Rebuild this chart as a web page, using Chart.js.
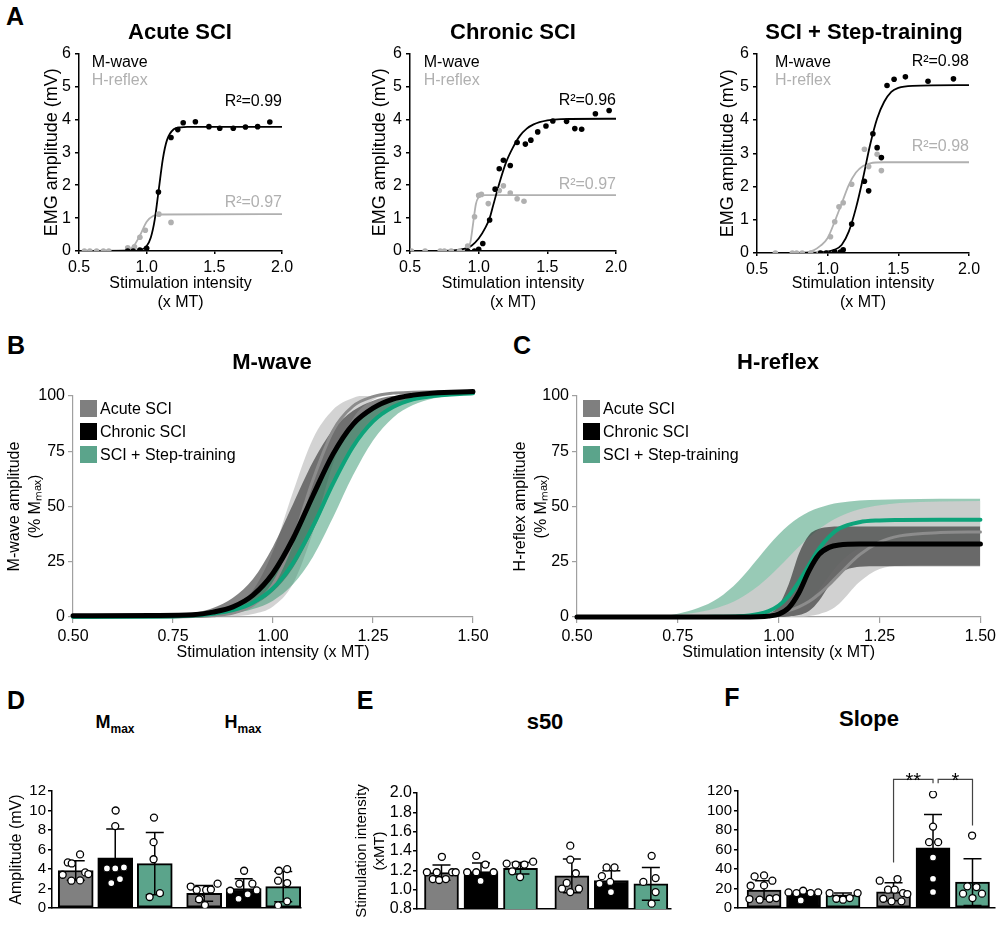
<!DOCTYPE html>
<html>
<head>
<meta charset="utf-8">
<title>Recruitment curves after SCI</title>
<script src="https://cdn.jsdelivr.net/npm/chart.js@4.4.1/dist/chart.umd.min.js"></script>
<style>
  body { margin: 0; background: #fff; }
  #fig { position: relative; width: 1000px; height: 927px; font-family: 'Liberation Sans', Arial, sans-serif; color: #000; }
  #fig canvas { position: absolute; }
  .t { position: absolute; transform: translate(-50%, -50%); font-weight: bold; font-size: 22px; line-height: 1; white-space: nowrap; }
  .p { position: absolute; transform: translate(-50%, -50%); font-weight: bold; font-size: 25px; line-height: 1; }
  .sub { font-size: 12px; position: relative; top: 5px; }
  .leg { position: absolute; font-size: 16px; line-height: 1; }
  .leg div { height: 23px; display: flex; align-items: center; white-space: nowrap; }
  .leg span { display: inline-block; width: 17px; height: 17px; margin-right: 3px; }
</style>
</head>
<body>
<div id="fig">
  <canvas id="a1" width="300" height="280" style="left:0;top:40px"></canvas>
  <canvas id="a2" width="310" height="280" style="left:330px;top:40px"></canvas>
  <canvas id="a3" width="330" height="280" style="left:660px;top:40px"></canvas>
  <canvas id="b" width="500" height="300" style="left:0;top:370px"></canvas>
  <canvas id="c" width="500" height="300" style="left:500px;top:370px"></canvas>
  <canvas id="d" width="320" height="167" style="left:0;top:760px"></canvas>
  <canvas id="e" width="345" height="167" style="left:330px;top:760px"></canvas>
  <canvas id="f" width="330" height="167" style="left:670px;top:760px"></canvas>

  <div class="p" style="left:15px;top:16px">A</div>
  <div class="t" style="left:180px;top:32px">Acute SCI</div>
  <div class="t" style="left:513px;top:32px">Chronic SCI</div>
  <div class="t" style="left:864px;top:32px">SCI + Step-training</div>

  <div class="p" style="left:16px;top:345px">B</div>
  <div class="t" style="left:272px;top:362px">M-wave</div>
  <div class="p" style="left:522px;top:345px">C</div>
  <div class="t" style="left:778px;top:362px">H-reflex</div>

  <div class="leg" style="left:80px;top:397px">
    <div><span style="background:#7f7f7f"></span>Acute SCI</div>
    <div><span style="background:#000"></span>Chronic SCI</div>
    <div><span style="background:#5ba48b"></span>SCI + Step-training</div>
  </div>
  <div class="leg" style="left:583px;top:397px">
    <div><span style="background:#7f7f7f"></span>Acute SCI</div>
    <div><span style="background:#000"></span>Chronic SCI</div>
    <div><span style="background:#5ba48b"></span>SCI + Step-training</div>
  </div>

  <div class="p" style="left:16px;top:700px">D</div>
  <div class="t" style="left:115px;top:722px;font-size:18px">M<span class="sub">max</span></div>
  <div class="t" style="left:243px;top:722px;font-size:18px">H<span class="sub">max</span></div>
  <div class="p" style="left:365px;top:700px">E</div>
  <div class="t" style="left:545px;top:722px">s50</div>
  <div class="p" style="left:732px;top:697px">F</div>
  <div class="t" style="left:869px;top:719px">Slope</div>
</div>

<script>
// ---------- A: recruitment curves of one animal per group ----------
const acuteMx = [0.86, 0.90, 0.95, 1.00, 1.087, 1.18, 1.23, 1.27, 1.36, 1.46, 1.54, 1.64, 1.73, 1.82, 1.91];
const acuteMy = [0, 0, 0.03, 0.08, 1.79, 3.45, 3.69, 3.9, 3.93, 3.78, 3.73, 3.73, 3.77, 3.78, 3.92];
const acuteHx = [0.54, 0.58, 0.63, 0.68, 0.72, 0.86, 0.91, 0.95, 0.99, 1.09, 1.18];
const acuteHy = [0, 0, 0, 0, 0, 0.1, 0.13, 0.42, 0.63, 1.12, 0.87];
const acuteMfitX = [0.5, 0.9, 0.95, 1.0, 1.03, 1.06, 1.09, 1.12, 1.15, 1.2, 1.25, 1.3, 2.0];
const acuteMfitY = [0, 0.004, 0.025, 0.15, 0.4, 0.96, 1.89, 2.81, 3.37, 3.7, 3.76, 3.77, 3.77];
const acuteHfitX = [0.5, 0.85, 0.9, 0.95, 1.0, 1.05, 1.1, 2.0];
const acuteHfitY = [0, 0.03, 0.13, 0.47, 0.89, 1.07, 1.11, 1.12];

const chronicMx = [0.92, 0.97, 1.0, 1.03, 1.08, 1.12, 1.15, 1.18, 1.23, 1.28, 1.34, 1.38, 1.43, 1.49, 1.54, 1.64, 1.70, 1.75, 1.85, 1.95];
const chronicMy = [0, 0, 0.05, 0.23, 0.94, 1.88, 2.5, 2.76, 2.6, 3.3, 3.25, 3.37, 3.62, 3.8, 3.95, 3.94, 3.72, 3.7, 4.17, 4.27];
const chronicHx = [0.51, 0.61, 0.72, 0.75, 0.80, 0.86, 0.92, 0.97, 1.0, 1.02, 1.07, 1.15, 1.18, 1.23, 1.28, 1.33];
const chronicHy = [0, 0, 0, 0, 0, 0, 0.15, 1.04, 1.69, 1.72, 1.44, 1.84, 1.98, 1.76, 1.59, 1.51];
const chronicMfitX = [0.5, 0.8, 0.9, 0.95, 1.0, 1.05, 1.08, 1.1, 1.15, 1.2, 1.25, 1.3, 1.35, 1.4, 1.5, 1.6, 2.0];
const chronicMfitY = [0, 0.01, 0.07, 0.17, 0.38, 0.72, 1.0, 1.3, 2.05, 2.7, 3.15, 3.5, 3.72, 3.85, 3.97, 4.01, 4.02];
const chronicHfitX = [0.5, 0.9, 0.92, 0.94, 0.96, 0.98, 1.0, 1.02, 1.05, 2.0];
const chronicHfitY = [0, 0.01, 0.06, 0.27, 0.85, 1.43, 1.64, 1.69, 1.7, 1.7];

const stepMx = [0.95, 0.99, 1.05, 1.09, 1.11, 1.17, 1.26, 1.29, 1.32, 1.35, 1.38, 1.42, 1.47, 1.55, 1.71, 1.89];
const stepMy = [0, 0, 0.03, 0.03, 0.1, 0.87, 2.16, 1.87, 3.59, 3.17, 2.87, 5.04, 5.23, 5.3, 5.17, 5.24];
const stepHx = [0.63, 0.75, 0.78, 0.82, 0.88, 0.94, 0.99, 1.02, 1.05, 1.08, 1.11, 1.17, 1.26, 1.29, 1.35, 1.38];
const stepHy = [0, 0, 0, 0, 0, 0, 0, 0.49, 0.94, 1.39, 1.51, 2.07, 3.12, 2.6, 2.97, 2.48];
const stepMfitX = [0.5, 0.95, 1.05, 1.1, 1.15, 1.2, 1.25, 1.3, 1.35, 1.4, 1.45, 1.5, 1.6, 2.0];
const stepMfitY = [0, 0.02, 0.1, 0.25, 0.65, 1.35, 2.25, 3.25, 4.05, 4.55, 4.85, 4.97, 5.03, 5.05];
const stepHfitX = [0.5, 0.85, 0.9, 0.95, 1.0, 1.05, 1.1, 1.15, 1.2, 1.25, 1.3, 1.4, 2.0];
const stepHfitY = [0, 0.02, 0.08, 0.22, 0.45, 0.95, 1.5, 2.05, 2.42, 2.62, 2.7, 2.73, 2.73];

// ---------- B: group M-wave curves (% Mmax), mean and band ----------
const xB = [0.5, 0.7, 0.8, 0.85, 0.9, 0.95, 1.0, 1.05, 1.1, 1.15, 1.2, 1.25, 1.3, 1.35, 1.4, 1.5];
const bAcute   = [0, 0, 0.2, 0.6, 1.8, 5.4, 14.7, 34.6, 62.1, 84.3, 95.4, 99.7, 101.3, 101.7, 101.9, 102];
const bAcuteHi = [0, 0, 0.5, 1.5, 4.3, 12.1, 29.7, 56.6, 80.7, 93.8, 99.1, 101, 101.6, 101.8, 102, 102];
const bAcuteLo = [0, 0, 0, 0.1, 0.4, 1.4, 4.8, 15.1, 38.5, 69.3, 89.9, 98.2, 100.9, 101.6, 101.9, 102];
const bChronic   = [0.6, 0.7, 1.0, 2.2, 4.6, 9.9, 19.8, 35.4, 55, 73.7, 87.2, 94.5, 98.6, 100.4, 101.3, 102];
const bChronicHi = [0, 0.4, 1.9, 4.1, 8.7, 17.2, 31.8, 51, 70.2, 84.8, 93.3, 97.9, 100.1, 101.1, 101.6, 102];
const bChronicLo = [0, 0.1, 0.5, 1.2, 2.5, 5.3, 11.5, 22.3, 39.1, 59, 76.7, 88.8, 95.6, 99, 100.6, 101.7];
const bStep   = [0, 0.1, 0.7, 1.5, 3.1, 6.5, 13, 24.4, 41.1, 60.4, 77.1, 88.5, 95, 98.5, 100, 101.2];
const bStepHi = [0, 0.25, 1.2, 2.4, 5.2, 10.6, 20.4, 35.6, 54.6, 72.7, 85.7, 93.5, 97.6, 99.7, 100.6, 101.4];
const bStepLo = [0, 0.1, 0.4, 0.8, 1.7, 3.6, 7.4, 14.8, 27.3, 45, 64.1, 79.9, 90.2, 95.9, 98.9, 100.9];

// ---------- C: group H-reflex curves (% Mmax) ----------
const xC = [0.5, 0.7, 0.8, 0.85, 0.9, 0.95, 0.975, 1.0, 1.025, 1.05, 1.075, 1.1, 1.125, 1.15, 1.2, 1.25, 1.3, 1.4, 1.5];
const cAcute   = [0, 0, 0, 0.1, 0.3, 0.7, 1.1, 1.8, 2.9, 4.6, 7, 10.4, 14.6, 19.3, 28.1, 33.9, 36.7, 38.2, 38.5];
const cAcuteHi = [0, 0.5, 2.2, 4.3, 8, 14.1, 18.1, 22.5, 27.2, 31.8, 36.1, 39.8, 42.9, 45.4, 48.8, 50.6, 51.6, 52.3, 52.5];
const cAcuteLo = [0, 0, 0, 0, 0, 0, 0, 0, 0.1, 0.2, 0.5, 1.3, 2.9, 6, 15.8, 21.7, 23.2, 23.5, 23.5];
const cChronic   = [0, 0, 0, 0, 0, 0.1, 0.4, 1.3, 4.2, 11, 20.9, 28.3, 31.5, 32.6, 33, 33, 33, 33, 33];
const cChronicHi = [0, 0, 0, 0, 0.1, 0.4, 1.4, 5.2, 14.9, 28.6, 37, 39.9, 40.7, 40.9, 41, 41, 41, 41, 41];
const cChronicLo = [0, 0, 0, 0, 0, 0, 0, 0, 0.25, 0.85, 2.7, 7.4, 14.3, 19.6, 22.7, 23, 23, 23, 23];
const cStep   = [0, 0, 0, 0.1, 0.3, 1.4, 2.7, 5.2, 9.5, 15.9, 23.5, 30.9, 36.4, 40, 42.9, 43.7, 43.9, 44, 44];
const cStepHi = [0, 0.3, 4.1, 8.5, 16.2, 26.8, 32.3, 37.3, 41.6, 45, 47.6, 49.4, 50.8, 51.7, 52.7, 53.1, 53.3, 53.5, 53.5];
const cStepLo = [0, 0, 0, 0, 0, 0.3, 0.5, 1.1, 2.1, 4.1, 7.5, 12.5, 18.5, 24.2, 31.3, 33.7, 34.3, 34.5, 34.5];

// ---------- D/E/F: bars (acute, chronic, step) x (M, H) ----------
const groupColors = ['#808080', '#000000', '#5ba48b', '#808080', '#000000', '#5ba48b'];

const dPos = [0, 1, 2, 3.25, 4.25, 5.25];
const dMean = [3.85, 5.15, 4.55, 1.5, 2.0, 2.2];
const dSd = [1.0, 2.95, 3.2, 0.8, 1.0, 1.55];
const dDots = [
  [3.41, 4.67, 4.57, 2.8, 5.5, 2.83, 3.65, 3.48],
  [10.0, 8.4, 4.06, 4.06, 4.16, 2.56, 2.97],
  [9.27, 6.75, 5.0, 1.13, 1.53],
  [2.2, 1.85, 1.0, 1.85, 1.9, 2.5, 0.3, 0.9],
  [3.82, 2.49, 2.49, 1.77, 0.95, 1.8, 1.4],
  [3.82, 3.99, 2.8, 2.56, 0.68, 0.27]
];
const dJit = [
  [-0.33, -0.2, -0.1, -0.11, 0.11, 0.11, 0.24, 0.32],
  [0.01, 0, -0.21, 0, 0.22, -0.1, 0.12],
  [-0.02, -0.03, -0.03, -0.13, 0.13],
  [-0.34, -0.19, -0.09, 0.05, 0.17, 0.34, 0.02, -0.13],
  [0.01, -0.11, 0.22, -0.34, -0.13, 0.33, 0.1],
  [-0.11, 0.1, -0.13, 0.1, 0.1, -0.13]
];

const ePos = [0, 1, 2, 3.3, 4.3, 5.3];
const eMean = [1.177, 1.187, 1.222, 1.143, 1.095, 1.06];
const eSd = [0.079, 0.09, 0.06, 0.175, 0.1, 0.17];
const eDots = [
  [1.34, 1.18, 1.11, 1.10, 1.11, 1.18, 1.18, 1.18],
  [1.35, 1.18, 1.18, 1.26, 1.18, 1.09],
  [1.27, 1.26, 1.26, 1.29, 1.19, 1.13],
  [1.455, 1.31, 1.17, 1.01, 1.07, 1.01, 0.975],
  [1.23, 1.23, 1.14, 1.08, 1.06, 0.975],
  [1.35, 1.08, 1.12, 0.975, 0.855]
];
const eJit = [
  [0.01, -0.37, -0.22, -0.06, 0.11, 0.27, 0.36, -0.12],
  [-0.12, -0.35, -0.12, 0.11, 0.32, -0.01],
  [-0.35, -0.12, 0.1, 0.32, -0.21, -0.01],
  [-0.04, -0.04, 0.1, -0.25, -0.13, 0.18, -0.04],
  [-0.12, 0.08, -0.24, -0.03, -0.3, -0.01],
  [0.02, -0.19, 0.12, 0.12, 0.02]
];

const fPos = [0, 1, 2, 3.28, 4.28, 5.28];
const fMean = [18.5, 15.5, 13.5, 16.7, 61.8, 26.6];
const fSd = [9.5, 2.2, 1.8, 9.3, 34, 24];
const fDots = [
  [32.4, 33.4, 28, 22.8, 23.2, 9.2, 8.5, 9.5, 10.2],
  [16, 15.3, 17.7, 15.3, 16, 7.8],
  [15.3, 9.5, 8.5, 10.2, 15.3],
  [28, 18.8, 29.7, 18.8, 15.3, 14.3, 9.5, 6.8, 6.8],
  [116.6, 83.5, 67.5, 67.5, 51.8, 30, 16.4],
  [74.3, 22.2, 21.5, 14.7, 14.7, 10.2]
];
const fJit = [
  [-0.24, 0, 0.21, -0.34, 0, -0.37, -0.11, 0.14, 0.31],
  [-0.38, -0.18, -0.01, 0.18, 0.37, -0.07],
  [-0.34, -0.17, 0, 0.17, 0.37],
  [-0.35, -0.14, 0.1, 0.03, 0.24, 0.35, -0.26, -0.05, 0.2],
  [0, 0, -0.1, 0.13, 0, 0, 0],
  [-0.01, -0.13, 0.1, -0.24, 0.24, 0]
];
// significance brackets in F (H-reflex slope)
const sigFrom = [3.28, 4.41];
const sigTo = [4.28, 5.28];
const sigTop = [132, 132];
const sigLeftEnd = [46.7, 128];
const sigRightEnd = [128, 84.6];
const sigText = ['**', '*'];

const FONT = "'Liberation Sans', Arial, sans-serif";
Chart.defaults.font.family = FONT;
Chart.defaults.color = '#000';

const pts = (xs, ys) => xs.map((x, i) => ({ x: x, y: ys[i] }));

function linAxis(o) {
  const col = o.color || '#000';
  return {
    type: 'linear', min: o.min, max: o.max, offset: false,
    afterFit: s => { if (o.size == null) return; if (s.isHorizontal()) s.height = o.size; else s.width = o.size; },
    border: { display: true, color: col, width: o.lw || 1.5 },
    grid: { drawOnChartArea: false, drawTicks: (o.tick || 0) > 0, tickLength: o.tick || 0, color: col, lineWidth: o.lw || 1.5 },
    ticks: {
      display: !o.hide, stepSize: o.step, padding: o.pad == null ? 3 : o.pad, autoSkip: false, maxRotation: 0,
      color: '#000', font: { size: o.fs || 14 },
      callback: v => o.dec == null ? v : Number(v).toFixed(o.dec)
    },
    title: o.title
      ? { display: true, text: o.title, color: '#000', font: { size: o.tfs || 15, lineHeight: o.tlh || 1.2 }, padding: o.tpad || 0 }
      : { display: false }
  };
}

function makeNotes(items) {
  return {
    id: 'notes',
    afterDraw(chart) {
      const { ctx, scales: { x, y } } = chart;
      items.forEach(n => {
        ctx.save();
        ctx.font = '16px ' + FONT;
        ctx.fillStyle = n.color;
        ctx.textAlign = n.align || 'left';
        ctx.textBaseline = 'middle';
        ctx.fillText(n.text, x.getPixelForValue(n.x), y.getPixelForValue(n.y));
        ctx.restore();
      });
    }
  };
}

function makeErrorBars(mean, sd, cap) {
  return {
    id: 'errorBars',
    afterDatasetDraw(chart, args) {
      if (args.index !== 0) return;
      const y = chart.scales.y, ctx = chart.ctx;
      ctx.save();
      ctx.strokeStyle = '#000';
      ctx.lineWidth = 1.5;
      args.meta.data.forEach((bar, i) => {
        const t = y.getPixelForValue(mean[i] + sd[i]);
        const b = y.getPixelForValue(mean[i] - sd[i]);
        ctx.beginPath();
        ctx.moveTo(bar.x, t); ctx.lineTo(bar.x, b);
        ctx.moveTo(bar.x - cap, t); ctx.lineTo(bar.x + cap, t);
        ctx.moveTo(bar.x - cap, b); ctx.lineTo(bar.x + cap, b);
        ctx.stroke();
      });
      ctx.restore();
    }
  };
}

const brackets = {
  id: 'brackets',
  afterDraw(chart) {
    const { ctx, scales: { x, y } } = chart;
    ctx.save();
    ctx.strokeStyle = '#444';
    ctx.lineWidth = 1.2;
    ctx.fillStyle = '#000';
    ctx.font = '20px ' + FONT;
    ctx.textAlign = 'center';
    ctx.textBaseline = 'alphabetic';
    sigFrom.forEach((from, i) => {
      const x1 = x.getPixelForValue(from), x2 = x.getPixelForValue(sigTo[i]);
      const yt = y.getPixelForValue(sigTop[i]);
      ctx.beginPath();
      ctx.moveTo(x1, y.getPixelForValue(sigLeftEnd[i]));
      ctx.lineTo(x1, yt);
      ctx.lineTo(x2, yt);
      ctx.lineTo(x2, y.getPixelForValue(sigRightEnd[i]));
      ctx.stroke();
      ctx.fillText(sigText[i], (x1 + x2) / 2, yt + 8);
    });
    ctx.restore();
  }
};

const baseOpts = pad => ({
  responsive: false, animation: false, events: [],
  layout: { padding: pad, autoPadding: false },
  plugins: { legend: { display: false }, tooltip: { enabled: false } }
});

// ---------- A ----------
function recruitChart(id, d) {
  const opts = baseOpts(d.pad);
  opts.scales = {
    x: linAxis({ min: 0.5, max: 2.0, step: 0.5, dec: 1, fs: 16, tick: 3, pad: 4, size: d.xh,
                 title: ['Stimulation intensity', '(x MT)'], tfs: 16, tpad: { top: 0, bottom: 8 } }),
    y: linAxis({ min: 0, max: 6, step: 1, fs: 16, tick: 4, pad: 4, size: d.yw, title: 'EMG amplitude (mV)', tfs: 18 })
  };
  new Chart(document.getElementById(id), {
    type: 'line',
    data: {
      datasets: [
        { data: pts(d.mx, d.my), showLine: false, pointRadius: 2.8, pointBackgroundColor: '#000', pointBorderWidth: 0 },
        { data: pts(d.hx, d.hy), showLine: false, pointRadius: 2.8, pointBackgroundColor: '#b0b0b0', pointBorderWidth: 0 },
        { data: pts(d.mfx, d.mfy), borderColor: '#000', borderWidth: 1.8, pointRadius: 0, cubicInterpolationMode: 'monotone' },
        { data: pts(d.hfx, d.hfy), borderColor: '#b0b0b0', borderWidth: 1.8, pointRadius: 0, cubicInterpolationMode: 'monotone' }
      ]
    },
    options: opts,
    plugins: [makeNotes(d.notes)]
  });
}

recruitChart('a1', {
  pad: { left: 41, right: 18, top: 9, bottom: 0 }, yw: 38, xh: 69,
  mx: acuteMx, my: acuteMy, hx: acuteHx, hy: acuteHy,
  mfx: acuteMfitX, mfy: acuteMfitY, hfx: acuteHfitX, hfy: acuteHfitY,
  notes: [
    { text: 'M-wave', x: 0.594, y: 5.73, color: '#000' },
    { text: 'H-reflex', x: 0.594, y: 5.17, color: '#b0b0b0' },
    { text: 'R²=0.99', x: 2.0, y: 4.54, color: '#000', align: 'right' },
    { text: 'R²=0.97', x: 2.0, y: 1.46, color: '#b0b0b0', align: 'right' }
  ]
});
recruitChart('a2', {
  pad: { left: 39, right: 24, top: 9, bottom: 0 }, yw: 41, xh: 69,
  mx: chronicMx, my: chronicMy, hx: chronicHx, hy: chronicHy,
  mfx: chronicMfitX, mfy: chronicMfitY, hfx: chronicHfitX, hfy: chronicHfitY,
  notes: [
    { text: 'M-wave', x: 0.60, y: 5.72, color: '#000' },
    { text: 'H-reflex', x: 0.60, y: 5.18, color: '#b0b0b0' },
    { text: 'R²=0.96', x: 2.0, y: 4.58, color: '#000', align: 'right' },
    { text: 'R²=0.97', x: 2.0, y: 2.03, color: '#b0b0b0', align: 'right' }
  ]
});
recruitChart('a3', {
  pad: { left: 57, right: 21, top: 9, bottom: 0 }, yw: 40, xh: 67,
  mx: stepMx, my: stepMy, hx: stepHx, hy: stepHy,
  mfx: stepMfitX, mfy: stepMfitY, hfx: stepHfitX, hfy: stepHfitY,
  notes: [
    { text: 'M-wave', x: 0.627, y: 5.73, color: '#000' },
    { text: 'H-reflex', x: 0.627, y: 5.2, color: '#b0b0b0' },
    { text: 'R²=0.98', x: 2.0, y: 5.77, color: '#000', align: 'right' },
    { text: 'R²=0.98', x: 2.0, y: 3.2, color: '#b0b0b0', align: 'right' }
  ]
});

// ---------- B / C ----------
function bandChart(id, d) {
  const ds = [];
  d.lines.forEach((l, i) => ds.push({
    data: pts(d.x, l.y), borderColor: l.color, borderWidth: l.w, pointRadius: 0, fill: false,
    cubicInterpolationMode: 'monotone', borderCapStyle: 'round', clip: false, order: i
  }));
  d.bands.forEach((b, i) => {
    ds.push({ data: pts(d.x, b.hi), borderColor: 'transparent', borderWidth: 0, pointRadius: 0,
              cubicInterpolationMode: 'monotone', fill: '+1', backgroundColor: b.color, order: 10 + i, clip: false });
    ds.push({ data: pts(d.x, b.lo), borderColor: 'transparent', borderWidth: 0, pointRadius: 0,
              cubicInterpolationMode: 'monotone', fill: false, order: 10 + i, clip: false });
  });
  const opts = baseOpts(d.pad);
  opts.scales = {
    x: linAxis({ min: 0.5, max: 1.5, step: 0.25, dec: 2, fs: 16, tick: 6, pad: 4, size: 53, color: '#a0a0a0', lw: 1.2,
                 title: 'Stimulation intensity (x MT)', tfs: 16, tpad: { top: 0, bottom: 8 } }),
    y: linAxis({ min: 0, max: 100, step: 25, fs: 16, tick: 5, pad: 3, size: d.yw, color: '#a0a0a0', lw: 1.2,
                 title: d.ytitle, tfs: 16, tlh: 1.3 })
  };
  new Chart(document.getElementById(id), { type: 'line', data: { datasets: ds }, options: opts });
}

const lineAcute = '#8c8c8c', lineChronic = '#000', lineStep = '#0ea37a';

bandChart('b', {
  x: xB, pad: { left: 4, right: 27, top: 26, bottom: 0 }, yw: 69,
  ytitle: ['M-wave amplitude', '(% Mₘₐₓ)'],
  lines: [
    { y: bChronic, color: lineChronic, w: 5 },
    { y: bStep, color: lineStep, w: 4 },
    { y: bAcute, color: lineAcute, w: 3 }
  ],
  bands: [
    { hi: bStepHi, lo: bStepLo, color: 'rgba(50,150,110,0.5)' },
    { hi: bChronicHi, lo: bChronicLo, color: 'rgba(30,30,30,0.55)' },
    { hi: bAcuteHi, lo: bAcuteLo, color: 'rgba(175,175,175,0.55)' }
  ]
});

bandChart('c', {
  x: xC, pad: { left: 10, right: 19, top: 26, bottom: 0 }, yw: 67,
  ytitle: ['H-reflex amplitude', '(% Mₘₐₓ)'],
  lines: [
    { y: cChronic, color: lineChronic, w: 5 },
    { y: cStep, color: lineStep, w: 4 },
    { y: cAcute, color: lineAcute, w: 3 }
  ],
  bands: [
    { hi: cChronicHi, lo: cChronicLo, color: 'rgba(35,35,35,0.6)' },
    { hi: cAcuteHi, lo: cAcuteLo, color: 'rgba(205,205,205,0.92)' },
    { hi: cStepHi, lo: cStepLo, color: 'rgba(50,150,110,0.5)' }
  ]
});

// ---------- D / E / F ----------
function dotBarChart(id, d) {
  const dots = [];
  d.dots.forEach((vals, g) => vals.forEach((v, k) => dots.push({ x: d.pos[g] + d.jit[g][k], y: v })));
  const opts = baseOpts(d.pad);
  opts.scales = {
    x: linAxis({ min: d.xmin, max: d.xmax, hide: true, tick: 0, size: d.xh }),
    y: linAxis({ min: d.ymin, max: d.ymax, step: d.ystep, dec: d.dec, fs: d.fs, tick: 4, pad: d.tp == null ? 2 : d.tp,
                 size: d.yw, title: d.ytitle, tfs: d.tfs })
  };
  new Chart(document.getElementById(id), {
    type: 'bar',
    data: {
      datasets: [
        { type: 'bar', data: pts(d.pos, d.mean), backgroundColor: groupColors, borderColor: '#000',
          borderWidth: 2, borderSkipped: false, barThickness: d.bw, order: 2 },
        { type: 'scatter', data: dots, pointRadius: 3.5, pointBackgroundColor: '#fff',
          pointBorderColor: '#000', pointBorderWidth: 1.3, order: 1 }
      ]
    },
    options: opts,
    plugins: [makeErrorBars(d.mean, d.sd, 9)].concat(d.extra || [])
  });
}

dotBarChart('d', {
  pos: dPos, mean: dMean, sd: dSd, dots: dDots, jit: dJit, bw: 35, fs: 15,
  pad: { left: 7, right: 19, top: 31, bottom: 0 }, yw: 45, xh: 19,
  xmin: -0.6, xmax: 5.7, ymin: 0, ymax: 12, ystep: 2,
  ytitle: 'Amplitude (mV)', tfs: 16
});
dotBarChart('e', {
  pos: ePos, mean: eMean, sd: eSd, dots: eDots, jit: eJit, bw: 34, fs: 16, tp: 1,
  pad: { left: 23, right: 4, top: 33, bottom: 0 }, yw: 64, xh: 18,
  xmin: -0.62, xmax: 5.81, ymin: 0.8, ymax: 2.0, ystep: 0.2, dec: 1,
  ytitle: ['Stimulation intensity', '(xMT)'], tfs: 15
});
dotBarChart('f', {
  pos: fPos, mean: fMean, sd: fSd, dots: fDots, jit: fJit, bw: 34, fs: 15,
  pad: { left: 20, right: 5, top: 31, bottom: 0 }, yw: 48, xh: 19,
  xmin: -0.66, xmax: 5.85, ymin: 0, ymax: 120, ystep: 20,
  extra: [brackets]
});
</script>
</body>
</html>
